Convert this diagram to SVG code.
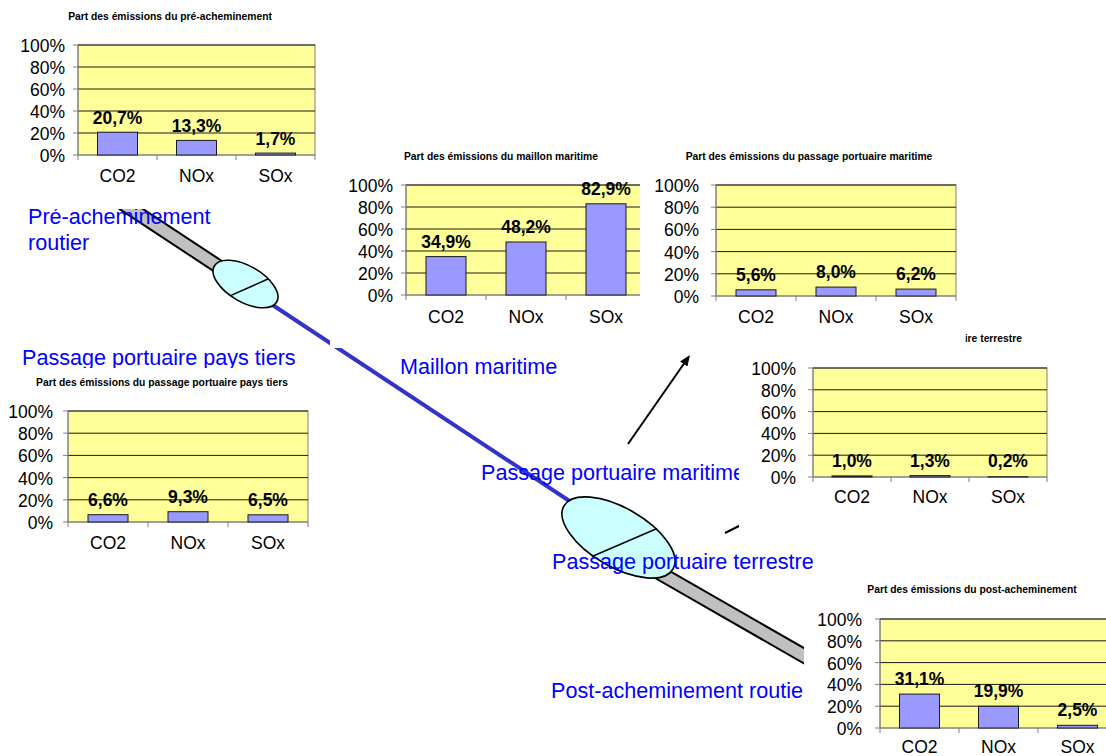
<svg xmlns="http://www.w3.org/2000/svg" width="1106" height="756" viewBox="0 0 1106 756">
  <defs>
    <marker id="arrowhead" markerWidth="11" markerHeight="9" refX="7" refY="4.5" orient="auto" markerUnits="userSpaceOnUse">
      <path d="M0,0 L11,4.5 L0,9 z" fill="#000"/>
    </marker>
    <style>
      .band{fill:#C0C0C0;stroke:#000;stroke-width:2;stroke-linejoin:round}
      .sea{stroke:#3333CC;stroke-width:4;fill:none}
      .pointer{stroke:#000;stroke-width:2;fill:none}
      .port{fill:#CCFFFF;stroke:#000;stroke-width:1.6}
      .split{stroke:#000;stroke-width:1.5}
      .lbl{font-family:"Liberation Sans",Arial,sans-serif;font-size:21.6px;fill:#0000FF}
      .bg{fill:#FFFFFF}
      .plot{fill:#FFFF99;stroke:#808080;stroke-width:1}
      .grid{stroke:#1A1A1A;stroke-width:1;fill:none}
      .axis{stroke:#808080;stroke-width:1;fill:none}
      .bar{fill:#9999FF;stroke:#1A1A1A;stroke-width:1}
      .ct{font-family:"Liberation Sans",Arial,sans-serif;fill:#000}
      .ttl{font-size:10.3px;font-weight:bold;text-anchor:middle}
      .yt{font-size:17.5px;text-anchor:end}
      .xt{font-size:17.5px;text-anchor:middle}
      .val{font-size:17.5px;font-weight:bold;text-anchor:middle}
    </style>
  </defs>

  <!-- transport chain: road legs, sea leg and pointers -->
  <g id="connectors">
    <polygon class="band" points="113.6,189.6 248.6,278.6 241.4,289.4 106.4,200.4"/>
    <polygon class="band" points="623.3,544.4 833.3,664.9 826.7,676.5 616.7,556"/>
    <line class="sea" x1="262" y1="298" x2="580" y2="508"/>
    <line class="pointer" x1="628" y1="444" x2="687.7" y2="358.3" marker-end="url(#arrowhead)"/>
    <line class="pointer" x1="725" y1="533" x2="760" y2="515.5" stroke-width="2.5"/>
  </g>

  <!-- port nodes -->
  <g id="port-origin">
    <ellipse class="port" cx="245.5" cy="284" rx="36" ry="18" transform="rotate(30 245.5 284)"/>
    <line class="split" x1="230.5" y1="295.6" x2="268.5" y2="278.8"/>
  </g>
  <g id="port-destination">
    <ellipse class="port" cx="618.5" cy="537.5" rx="63" ry="29.5" transform="rotate(30 618.5 537.5)"/>
    <line class="split" x1="592" y1="556.5" x2="657" y2="528.5"/>
  </g>

  <!-- leg labels -->
  <g id="label-pre">
    <text class="lbl" x="28" y="223.5">Pré-acheminement</text>
    <text class="lbl" x="28" y="249.5">routier</text>
  </g>
  <g id="label-port-tiers"><text class="lbl" x="22" y="364.5">Passage portuaire pays tiers</text></g>
  <g id="label-sea"><text class="lbl" x="400" y="373.5">Maillon maritime</text></g>
  <g id="label-port-sea"><text class="lbl" x="481" y="480">Passage portuaire maritime</text></g>
  <g id="label-port-land"><text class="lbl" x="552" y="569">Passage portuaire terrestre</text></g>
  <g id="label-post"><text class="lbl" x="551" y="698">Post-acheminement routier</text></g>

  <!-- chart: pre-carriage -->
  <g id="chart-pre" class="ct">
    <rect class="bg" x="0" y="0" width="335" height="209"/>
    <text class="ttl" x="170" y="20">Part des émissions du pré-acheminement</text>
    <rect class="plot" x="78" y="45" width="237" height="110"/>
    <path class="grid" d="M78 45H315M78 67H315M78 89H315M78 111H315M78 133H315"/>
    <path class="axis" d="M78 45V155H315M73 45H78M73 67H78M73 89H78M73 111H78M73 133H78M73 155H78M78 155V160M157 155V160M236 155V160M315 155V160"/>
    <rect class="bar" x="97.5" y="132.2" width="40" height="22.8"/>
    <rect class="bar" x="176.5" y="140.4" width="40" height="14.6"/>
    <rect class="bar" x="255.5" y="153.1" width="40" height="1.9"/>
    <text class="val" x="117.5" y="123.7">20,7%</text>
    <text class="val" x="196.5" y="131.9">13,3%</text>
    <text class="val" x="275.5" y="144.6">1,7%</text>
    <text class="yt" x="65" y="52">100%</text>
    <text class="yt" x="65" y="74">80%</text>
    <text class="yt" x="65" y="96">60%</text>
    <text class="yt" x="65" y="118">40%</text>
    <text class="yt" x="65" y="140">20%</text>
    <text class="yt" x="65" y="162">0%</text>
    <text class="xt" x="117.5" y="181.5">CO2</text>
    <text class="xt" x="196.5" y="181.5">NOx</text>
    <text class="xt" x="275.5" y="181.5">SOx</text>
  </g>

  <!-- chart: port of the third country -->
  <g id="chart-port-tiers" class="ct">
    <rect class="bg" x="0" y="368" width="320" height="195"/>
    <text class="ttl" x="162" y="386">Part des émissions du passage portuaire pays tiers</text>
    <rect class="plot" x="68" y="411" width="240" height="111"/>
    <path class="grid" d="M68 411H308M68 433.2H308M68 455.4H308M68 477.6H308M68 499.8H308"/>
    <path class="axis" d="M68 411V522H308M63 411H68M63 433.2H68M63 455.4H68M63 477.6H68M63 499.8H68M63 522H68M68 522V527M148 522V527M228 522V527M308 522V527"/>
    <rect class="bar" x="88" y="514.7" width="40" height="7.3"/>
    <rect class="bar" x="168" y="511.7" width="40" height="10.3"/>
    <rect class="bar" x="248" y="514.8" width="40" height="7.2"/>
    <text class="val" x="108" y="505.7">6,6%</text>
    <text class="val" x="188" y="502.7">9,3%</text>
    <text class="val" x="268" y="505.8">6,5%</text>
    <text class="yt" x="53" y="418">100%</text>
    <text class="yt" x="53" y="440.2">80%</text>
    <text class="yt" x="53" y="462.4">60%</text>
    <text class="yt" x="53" y="484.6">40%</text>
    <text class="yt" x="53" y="506.8">20%</text>
    <text class="yt" x="53" y="529">0%</text>
    <text class="xt" x="108" y="548.5">CO2</text>
    <text class="xt" x="188" y="548.5">NOx</text>
    <text class="xt" x="268" y="548.5">SOx</text>
  </g>

  <!-- chart: sea leg -->
  <g id="chart-sea" class="ct">
    <rect class="bg" x="330" y="145" width="310" height="203"/>
    <text class="ttl" x="501" y="160">Part des émissions du maillon maritime</text>
    <rect class="plot" x="406" y="185" width="240" height="110"/>
    <path class="grid" d="M406 185H646M406 207H646M406 229H646M406 251H646M406 273H646"/>
    <path class="axis" d="M406 185V295H646M401 185H406M401 207H406M401 229H406M401 251H406M401 273H406M401 295H406M406 295V300M486 295V300M566 295V300M646 295V300"/>
    <rect class="bar" x="426" y="256.6" width="40" height="38.4"/>
    <rect class="bar" x="506" y="242" width="40" height="53"/>
    <rect class="bar" x="586" y="203.8" width="40" height="91.2"/>
    <text class="val" x="446" y="247.6">34,9%</text>
    <text class="val" x="526" y="233">48,2%</text>
    <text class="val" x="606" y="194.8">82,9%</text>
    <text class="yt" x="393" y="192">100%</text>
    <text class="yt" x="393" y="214">80%</text>
    <text class="yt" x="393" y="236">60%</text>
    <text class="yt" x="393" y="258">40%</text>
    <text class="yt" x="393" y="280">20%</text>
    <text class="yt" x="393" y="302">0%</text>
    <text class="xt" x="446" y="322.5">CO2</text>
    <text class="xt" x="526" y="322.5">NOx</text>
    <text class="xt" x="606" y="322.5">SOx</text>
  </g>

  <!-- chart: inland port passage -->
  <g id="chart-port-land" class="ct">
    <rect class="bg" x="739" y="330" width="367" height="215"/>
    <text class="ttl" x="1022" y="342" style="text-anchor:end">Part des émissions du passage portuaire terrestre</text>
    <rect class="plot" x="813" y="368" width="234" height="109"/>
    <path class="grid" d="M813 368H1047M813 389.8H1047M813 411.6H1047M813 433.4H1047M813 455.2H1047"/>
    <path class="axis" d="M813 368V477H1047M808 368H813M808 389.8H813M808 411.6H813M808 433.4H813M808 455.2H813M808 477H813M813 477V482M891 477V482M969 477V482M1047 477V482"/>
    <rect class="bar" x="832" y="475.9" width="40" height="1.1"/>
    <rect class="bar" x="910" y="475.6" width="40" height="1.4"/>
    <rect class="bar" x="988" y="476.8" width="40" height="0.2"/>
    <text class="val" x="852" y="467">1,0%</text>
    <text class="val" x="930" y="467">1,3%</text>
    <text class="val" x="1008" y="467">0,2%</text>
    <text class="yt" x="796" y="375">100%</text>
    <text class="yt" x="796" y="396.8">80%</text>
    <text class="yt" x="796" y="418.6">60%</text>
    <text class="yt" x="796" y="440.4">40%</text>
    <text class="yt" x="796" y="462.2">20%</text>
    <text class="yt" x="796" y="484">0%</text>
    <text class="xt" x="852" y="503">CO2</text>
    <text class="xt" x="930" y="503">NOx</text>
    <text class="xt" x="1008" y="503">SOx</text>
  </g>

  <!-- chart: seaport passage -->
  <g id="chart-port-sea" class="ct">
    <rect class="bg" x="640" y="145" width="325.5" height="200"/>
    <text class="ttl" x="809" y="160">Part des émissions du passage portuaire maritime</text>
    <rect class="plot" x="716" y="185" width="240" height="111"/>
    <path class="grid" d="M716 185H956M716 207.2H956M716 229.4H956M716 251.6H956M716 273.8H956"/>
    <path class="axis" d="M716 185V296H956M711 185H716M711 207.2H716M711 229.4H716M711 251.6H716M711 273.8H716M711 296H716M716 296V301M796 296V301M876 296V301M956 296V301"/>
    <rect class="bar" x="736" y="289.8" width="40" height="6.2"/>
    <rect class="bar" x="816" y="287.1" width="40" height="8.9"/>
    <rect class="bar" x="896" y="289.1" width="40" height="6.9"/>
    <text class="val" x="756" y="280.8">5,6%</text>
    <text class="val" x="836" y="278.1">8,0%</text>
    <text class="val" x="916" y="280.1">6,2%</text>
    <text class="yt" x="699" y="192">100%</text>
    <text class="yt" x="699" y="214.2">80%</text>
    <text class="yt" x="699" y="236.4">60%</text>
    <text class="yt" x="699" y="258.6">40%</text>
    <text class="yt" x="699" y="280.8">20%</text>
    <text class="yt" x="699" y="303">0%</text>
    <text class="xt" x="756" y="323">CO2</text>
    <text class="xt" x="836" y="323">NOx</text>
    <text class="xt" x="916" y="323">SOx</text>
  </g>

  <!-- chart: on-carriage -->
  <g id="chart-post" class="ct">
    <rect class="bg" x="804" y="578" width="302" height="178"/>
    <text class="ttl" x="972" y="593">Part des émissions du post-acheminement</text>
    <rect class="plot" x="880" y="619" width="237" height="109"/>
    <path class="grid" d="M880 619H1117M880 640.8H1117M880 662.6H1117M880 684.4H1117M880 706.2H1117"/>
    <path class="axis" d="M880 619V728H1117M875 619H880M875 640.8H880M875 662.6H880M875 684.4H880M875 706.2H880M875 728H880M880 728V733M959 728V733M1038 728V733"/>
    <rect class="bar" x="899.5" y="694.1" width="40" height="33.9"/>
    <rect class="bar" x="978.5" y="706.3" width="40" height="21.7"/>
    <rect class="bar" x="1057.5" y="725.3" width="40" height="2.7"/>
    <text class="val" x="919.5" y="685.1">31,1%</text>
    <text class="val" x="998.5" y="697.3">19,9%</text>
    <text class="val" x="1077.5" y="716.3">2,5%</text>
    <text class="yt" x="862" y="626">100%</text>
    <text class="yt" x="862" y="647.8">80%</text>
    <text class="yt" x="862" y="669.6">60%</text>
    <text class="yt" x="862" y="691.4">40%</text>
    <text class="yt" x="862" y="713.2">20%</text>
    <text class="yt" x="862" y="735">0%</text>
    <text class="xt" x="919.5" y="753">CO2</text>
    <text class="xt" x="998.5" y="753">NOx</text>
    <text class="xt" x="1077.5" y="753">SOx</text>
  </g>
</svg>
